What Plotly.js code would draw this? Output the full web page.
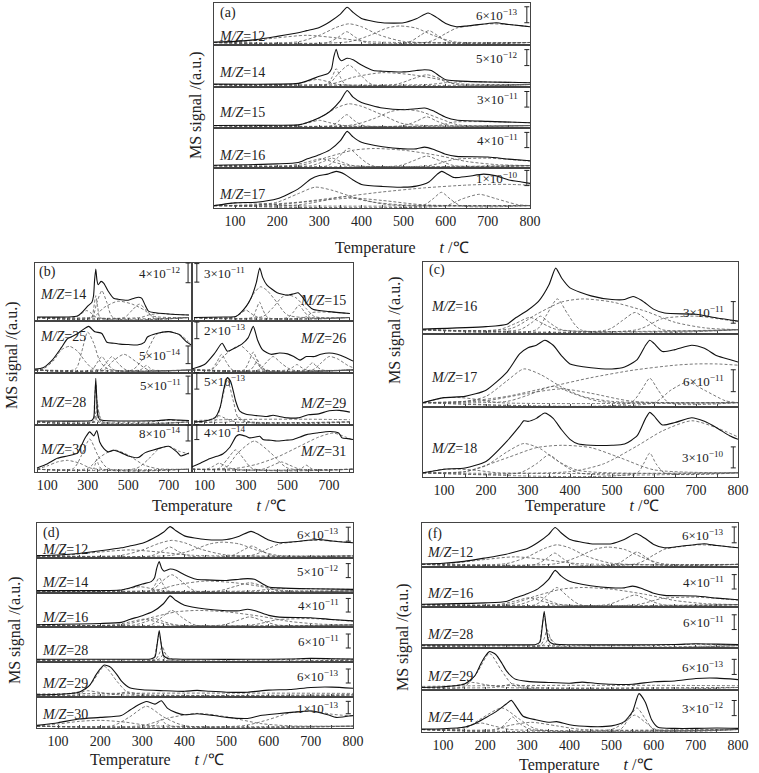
<!DOCTYPE html>
<html><head><meta charset="utf-8">
<script src="https://cdn.plot.ly/plotly-3.0.1.min.js"></script>
<style>html,body{margin:0;padding:0;background:#fff}#chart{width:759px;height:773px}</style>
</head><body><div id="chart"></div>
<script>
// ---------- DATA (relative signal, each row normalised to its own scale) ----------
const mz12_t = [50,100,150,200,250,270,300,325,350,366,380,400,450,500,530,558,578,600,625,650,700,720,750,800];
const mz12_y = [0.01,0.03,0.08,0.17,0.27,0.33,0.42,0.58,0.79,0.98,0.84,0.67,0.55,0.55,0.66,0.82,0.70,0.53,0.44,0.46,0.53,0.55,0.50,0.44];
const mz12_parts = [
  [[50,120,200,270,340,420,800],[0,0.03,0.13,0.2,0.13,0.02,0]],
  [[50,250,300,340,370,400,440,500,800],[0,0.02,0.2,0.42,0.52,0.44,0.22,0.03,0]],
  [[50,320,345,365,385,410,800],[0,0,0.15,0.3,0.15,0,0]],
  [[50,370,420,460,490,530,570,620,800],[0,0.02,0.2,0.4,0.46,0.4,0.2,0.02,0]],
  [[50,510,540,560,580,610,800],[0,0,0.2,0.33,0.2,0,0]],
  [[50,560,600,625,650,700,750,800],[0,0.02,0.25,0.40,0.45,0.52,0.5,0.44]]
];
const mz14_t = [50,200,250,278,300,321,329,334,340,346,352,366,380,400,428,450,500,530,550,566,586,600,625,700,800];
const mz14_y = [0.01,0.01,0.03,0.13,0.23,0.31,0.44,0.75,0.98,0.75,0.66,0.73,0.69,0.54,0.39,0.37,0.35,0.39,0.41,0.39,0.23,0.13,0.10,0.07,0.05];
const mz14_parts = [
  [[50,318,330,340,350,362,800],[0,0,0.2,0.44,0.2,0,0]],
  [[50,320,345,370,395,425,800],[0,0,0.3,0.54,0.3,0,0]],
  [[50,330,380,450,520,580,620,800],[0,0.02,0.2,0.33,0.27,0.15,0.03,0]],
  [[50,480,520,555,590,625,800],[0,0,0.15,0.27,0.15,0,0]],
  [[50,230,265,295,320,345,800],[0,0,0.07,0.14,0.08,0,0]],
  [[50,560,600,650,700,800],[0,0,0.05,0.08,0.07,0.05]]
];
const mz15_t = [50,200,250,270,300,325,350,366,380,400,450,500,530,550,570,600,625,700,800];
const mz15_y = [0.0,0.01,0.02,0.08,0.22,0.40,0.71,1.0,0.81,0.66,0.5,0.45,0.48,0.5,0.42,0.24,0.16,0.12,0.08];
const mz15_parts = [
  [[50,250,300,340,370,400,450,500,800],[0,0.02,0.22,0.5,0.62,0.55,0.3,0.05,0]],
  [[50,330,348,365,382,405,800],[0,0,0.15,0.31,0.15,0,0]],
  [[50,380,430,470,500,540,590,630,800],[0,0.02,0.2,0.4,0.46,0.4,0.18,0.02,0]],
  [[50,500,530,555,580,610,800],[0,0,0.12,0.25,0.12,0,0]],
  [[50,240,275,300,325,360,800],[0,0,0.08,0.15,0.08,0,0]],
  [[50,580,620,700,800],[0,0,0.1,0.11,0.08]]
];
const mz16_t = [50,200,250,270,300,325,350,366,380,400,450,500,530,550,570,600,625,700,750,800];
const mz16_y = [0.01,0.05,0.09,0.19,0.32,0.46,0.73,1.0,0.84,0.68,0.55,0.49,0.49,0.54,0.48,0.33,0.27,0.25,0.19,0.14];
const mz16_parts = [
  [[50,320,345,370,395,425,800],[0,0,0.25,0.5,0.25,0,0]],
  [[50,260,320,380,430,500,580,650,720,800],[0,0.02,0.25,0.45,0.5,0.45,0.3,0.12,0.03,0]],
  [[50,490,525,555,585,620,800],[0,0,0.15,0.28,0.15,0,0]],
  [[50,230,270,305,335,370,800],[0,0,0.1,0.2,0.1,0,0]],
  [[50,280,310,330,350,380,800],[0,0,0.12,0.22,0.12,0,0]],
  [[50,560,620,700,750,800],[0,0,0.18,0.22,0.18,0.13]]
];
const mz17_t = [50,100,150,200,250,280,300,320,340,360,380,400,450,500,530,560,580,590,600,620,650,690,720,750,780,800];
const mz17_y = [0,0.08,0.10,0.20,0.49,0.78,0.88,0.92,1.0,0.92,0.75,0.62,0.56,0.54,0.57,0.69,0.92,1.0,0.95,0.82,0.85,0.92,0.87,0.75,0.69,0.65];
const mz17_parts = [
  [[50,150,200,250,290,330,380,430,500,800],[0,0.02,0.1,0.35,0.54,0.45,0.25,0.1,0.02,0]],
  [[50,150,250,350,450,550,650,700,750,800],[0,0.02,0.1,0.25,0.4,0.52,0.6,0.62,0.62,0.6]],
  [[50,250,300,360,410,470,800],[0,0.02,0.12,0.26,0.14,0.02,0]],
  [[50,200,300,380,450,550,800],[0,0.03,0.15,0.22,0.15,0.02,0]],
  [[50,545,570,590,610,635,800],[0,0,0.2,0.39,0.2,0,0]],
  [[50,600,640,680,720,770,800],[0,0,0.2,0.33,0.2,0.03,0]],
  [[50,80,100,140,180,230,800],[0,0.05,0.08,0.08,0.05,0,0]]
];
const mz18_t = [50,100,150,200,250,280,290,300,320,340,360,380,400,420,450,500,530,560,580,590,600,620,650,690,720,750,780,800];
const mz18_y = [0,0.06,0.08,0.19,0.53,0.78,0.87,0.86,0.91,1.0,0.91,0.72,0.56,0.48,0.46,0.46,0.48,0.62,0.91,1.01,0.95,0.80,0.84,0.92,0.86,0.75,0.62,0.56];
const mz18_parts = [
  [[50,150,200,250,290,330,370,420,800],[0,0.02,0.12,0.35,0.49,0.4,0.2,0.04,0]],
  [[50,150,250,320,380,450,520,600,800],[0,0.02,0.25,0.42,0.46,0.42,0.25,0.05,0]],
  [[50,280,320,350,380,420,800],[0,0,0.15,0.3,0.15,0,0]],
  [[50,400,480,560,620,690,750,800],[0,0.02,0.15,0.45,0.7,0.87,0.75,0.6]],
  [[50,560,575,590,605,625,800],[0,0,0.15,0.33,0.15,0,0]],
  [[50,80,100,140,180,230,800],[0,0.04,0.06,0.06,0.04,0,0]]
];
const mz25_t = [40,80,125,170,200,245,275,305,335,370,395,430,460,500,545,580,595,640,700,750,785,815];
const mz25_y = [0.02,0.05,0.22,0.5,0.7,0.8,0.9,0.98,0.86,0.82,0.62,0.6,0.58,0.57,0.56,0.62,0.74,0.82,0.86,0.8,0.64,0.55];
const mz25_parts = [
  [[40,80,130,170,210,250,290,330,815],[0,0.02,0.2,0.45,0.53,0.42,0.18,0.02,0]],
  [[40,240,270,300,330,360,400,815],[0,0.02,0.4,0.85,0.6,0.2,0.02,0]],
  [[40,320,345,370,395,430,815],[0,0,0.15,0.3,0.15,0,0]],
  [[40,360,390,420,450,490,815],[0,0,0.15,0.3,0.15,0,0]],
  [[40,380,420,480,540,600,815],[0,0,0.18,0.35,0.18,0,0]],
  [[40,560,575,590,605,620,815],[0,0,0.05,0.1,0.05,0,0]],
  [[40,520,580,640,700,760,815],[0,0,0.3,0.8,0.86,0.78,0.55]]
];
const mz26_t = [40,100,150,185,210,250,280,310,335,355,380,420,460,500,530,560,590,630,660,700,740,780,815];
const mz26_y = [0.02,0.12,0.38,0.6,0.42,0.5,0.58,0.72,0.98,0.68,0.45,0.35,0.38,0.36,0.3,0.22,0.3,0.3,0.35,0.38,0.35,0.28,0.2];
const mz26_parts = [
  [[40,130,160,182,205,235,815],[0,0,0.18,0.35,0.18,0,0]],
  [[40,140,190,270,330,380,815],[0,0.02,0.3,0.55,0.3,0.02,0]],
  [[40,290,315,335,355,380,815],[0,0,0.2,0.4,0.2,0,0]],
  [[40,320,340,355,370,395,815],[0,0,0.1,0.22,0.1,0,0]],
  [[40,360,400,430,470,520,815],[0,0,0.18,0.3,0.15,0,0]],
  [[40,500,525,545,565,590,815],[0,0,0.06,0.12,0.06,0,0]],
  [[40,580,600,620,640,665,815],[0,0,0.08,0.16,0.08,0,0]],
  [[40,620,660,700,740,790,815],[0,0,0.15,0.3,0.25,0.1,0.05]]
];
const mz28_t = [50,300,320,330,335,340,345,350,360,380,450,550,650,700,750,800];
const mz28_y = [0.02,0.02,0.03,0.1,0.5,0.98,0.5,0.15,0.05,0.03,0.02,0.02,0.03,0.05,0.04,0.03];
const mz28_parts = [
  [[50,325,333,340,347,355,800],[0,0,0.4,0.85,0.4,0,0]],
  [[50,330,340,347,355,365,800],[0,0,0.2,0.45,0.2,0,0]],
  [[50,335,345,352,362,375,800],[0,0,0.1,0.25,0.1,0,0]],
  [[50,600,650,700,750,800],[0,0,0.02,0.04,0.03,0.02]]
];
const mz29_t = [50,100,150,175,190,200,210,225,240,250,270,300,350,400,430,460,500,550,600,650,700,750,800];
const mz29_y = [0,0.02,0.09,0.32,0.67,0.87,1.0,0.92,0.67,0.47,0.24,0.17,0.14,0.12,0.15,0.12,0.09,0.09,0.16,0.18,0.25,0.26,0.22];
const mz29_parts = [
  [[50,150,180,210,240,270,800],[0,0.02,0.4,0.95,0.45,0.05,0]],
  [[50,100,140,170,200,250,800],[0,0,0.08,0.14,0.08,0,0]],
  [[50,220,245,265,285,320,800],[0,0,0.05,0.1,0.05,0,0]],
  [[50,200,400,600,800],[0.03,0.05,0.06,0.06,0.05]]
];
const mz30_t = [50,100,150,200,250,270,290,310,330,345,360,380,400,430,470,500,550,580,620,660,700,740,760,800];
const mz30_y = [0.03,0.13,0.27,0.33,0.4,0.6,0.8,0.93,0.83,0.96,0.67,0.51,0.43,0.47,0.4,0.33,0.29,0.4,0.47,0.53,0.57,0.43,0.33,0.4];
const mz30_parts = [
  [[50,230,270,310,350,400,800],[0,0.02,0.35,0.75,0.35,0.02,0]],
  [[50,300,360,430,500,580,650,800],[0,0.02,0.3,0.48,0.35,0.1,0.01,0]],
  [[50,540,600,650,700,750,800],[0,0.02,0.25,0.5,0.57,0.45,0.38]],
  [[50,100,150,200,260,320,800],[0,0.08,0.18,0.22,0.15,0.02,0]],
  [[50,325,337,345,353,370,800],[0,0,0.12,0.25,0.12,0,0]]
];
const mz31_t = [40,80,124,160,188,221,253,269,300,318,345,366,382,420,447,490,527,560,592,640,705,746,762,790,815];
const mz31_y = [0.06,0.15,0.26,0.32,0.38,0.54,0.82,0.86,0.82,0.78,0.8,0.82,0.74,0.72,0.7,0.72,0.74,0.8,0.86,0.9,0.94,0.9,0.78,0.76,0.74];
const mz31_parts = [
  [[40,170,210,250,290,330,815],[0,0.02,0.25,0.48,0.25,0.02,0]],
  [[40,200,260,340,420,500,815],[0,0.03,0.4,0.7,0.4,0.03,0]],
  [[40,380,430,470,510,560,815],[0,0,0.1,0.18,0.1,0,0]],
  [[40,560,575,590,605,620,815],[0,0,0.05,0.1,0.05,0,0]],
  [[40,250,350,450,550,650,720,780,815],[0,0.02,0.12,0.3,0.55,0.8,0.9,0.8,0.72]],
  [[40,110,145,170,200,240,815],[0,0,0.08,0.15,0.08,0,0]]
];
const mz44_t = [50,100,150,175,200,225,250,262,275,290,320,350,370,400,450,500,530,550,565,580,595,610,650,700,750,800];
const mz44_y = [0.01,0.02,0.06,0.16,0.32,0.49,0.71,0.81,0.61,0.37,0.27,0.2,0.22,0.13,0.08,0.1,0.22,0.51,1.0,0.76,0.27,0.06,0.03,0.03,0.04,0.03];
const mz44_parts = [
  [[50,150,190,240,280,320,800],[0,0.02,0.3,0.6,0.3,0.02,0]],
  [[50,230,250,265,280,310,800],[0,0,0.18,0.35,0.18,0,0]],
  [[50,220,260,310,370,430,800],[0,0,0.12,0.2,0.1,0,0]],
  [[50,520,540,560,580,600,800],[0,0,0.3,0.6,0.3,0,0]],
  [[50,500,530,555,580,605,800],[0,0,0.2,0.4,0.2,0,0]],
  [[50,120,160,190,220,260,800],[0,0,0.1,0.18,0.1,0,0]]
];
// tick labels
const ticksFull = [100,200,300,400,500,600,700,800];
const ticksB = [100,300,500,700];
// scale-bar texts per panel: [mantissa, exponent]
const scaleA = [['6','13'],['5','12'],['3','11'],['4','11'],['1','10']];
const scaleBL = [['4','12'],['5','14'],['5','11'],['8','14']];
const scaleBR = [['3','11'],['2','13'],['5','13'],['4','14']];
const scaleC = [['3','11'],['6','11'],['3','10']];
const scaleD = [['6','13'],['5','12'],['4','11'],['6','11'],['6','13'],['1','13']];
const scaleF = [['6','13'],['4','11'],['6','11'],['6','13'],['3','12']];

// ---------- BUILD ----------
const species = {
  12:[mz12_t,mz12_y,mz12_parts],14:[mz14_t,mz14_y,mz14_parts],15:[mz15_t,mz15_y,mz15_parts],
  16:[mz16_t,mz16_y,mz16_parts],17:[mz17_t,mz17_y,mz17_parts],18:[mz18_t,mz18_y,mz18_parts],
  25:[mz25_t,mz25_y,mz25_parts],26:[mz26_t,mz26_y,mz26_parts],28:[mz28_t,mz28_y,mz28_parts],
  29:[mz29_t,mz29_y,mz29_parts],30:[mz30_t,mz30_y,mz30_parts],31:[mz31_t,mz31_y,mz31_parts],
  44:[mz44_t,mz44_y,mz44_parts]
};
const W = 759, H = 773;
const FONT = 'Liberation Serif';
const panels = [
  {x:[214,530], range:[50,800], labels:ticksFull, rows:[[3,45],[45,87],[87,128],[128,168],[168,208]],
   sp:[12,14,15,16,17], lx:0.01, la:'left', ly:[0.2,0.34,0.37,0.32,0.35],
   sc:scaleA, sx:0.968, sa:'right', sy:[0.72,0.7,0.7,0.7,0.75], bx:0.99, bh:0.19, tag:'(a)', tagy:0.76},
  {x:[35,192], range:[40,815], labels:ticksB, rows:[[263,321],[321,373],[373,425],[425,472]],
   sp:[14,25,28,30], lx:0.02, la:'left', ly:[0.45,0.71,0.44,0.47],
   sc:scaleBL, sx:0.94, sa:'right', sy:[0.83,0.35,0.77,0.83], bx:0.975, bh:0.17, tag:'(b)', tagy:0.85},
  {x:[192,353], range:[40,815], labels:ticksB, rows:[[263,321],[321,373],[373,425],[425,472]],
   sp:[15,26,29,31], lx:0.97, la:'right', ly:[0.36,0.67,0.42,0.43],
   sc:scaleBR, sx:0.065, sa:'left', sy:[0.83,0.82,0.85,0.85], bx:0.03, bh:0.16},
  {x:[423,738], range:[50,800], labels:ticksFull, rows:[[262,334],[334,407],[407,477]],
   sp:[16,17,18], lx:0.02, la:'left', ly:[0.38,0.41,0.41],
   sc:scaleC, sx:0.962, sa:'right', sy:[0.3,0.36,0.28], bx:0.985, bh:0.15, tag:'(c)', tagy:0.89},
  {x:[37,353], range:[50,800], labels:ticksFull, rows:[[523,558],[558,593],[593,627],[627,662],[662,697],[697,728]],
   sp:[12,14,16,28,29,30], lx:0.01, la:'left', ly:[0.23,0.29,0.29,0.34,0.4,0.42],
   sc:scaleD, sx:0.962, sa:'right', sy:[0.68,0.64,0.64,0.6,0.6,0.66], bx:0.985, bh:0.2, tag:'(d)', tagy:0.72},
  {x:[422,738], range:[50,800], labels:ticksFull, rows:[[523,567],[567,607],[607,648],[648,690],[690,732]],
   sp:[12,16,28,29,44], lx:0.01, la:'left', ly:[0.32,0.35,0.32,0.31,0.35],
   sc:scaleF, sx:0.962, sa:'right', sy:[0.73,0.63,0.63,0.55,0.57], bx:0.988, bh:0.18, tag:'(f)', tagy:0.74}
];
const traces = [], shapes = [], annotations = [];
const layout = {width:W, height:H, margin:{l:0,r:0,t:0,b:0}, showlegend:false,
  paper_bgcolor:'#fff', plot_bgcolor:'rgba(0,0,0,0)', font:{family:FONT, color:'#222', size:13}};
let n = 0;
panels.forEach(p => {
  const tv = []; for (let v = 50; v <= 800; v += 50) tv.push(v);
  const tt = tv.map(v => p.labels.includes(v) ? String(v) : '');
  const pw = p.x[1] - p.x[0];
  p.rows.forEach((r, k) => {
    n++;
    const xs = n === 1 ? 'x' : 'x' + n, ys = n === 1 ? 'y' : 'y' + n;
    const last = k === p.rows.length - 1;
    layout[n === 1 ? 'xaxis' : 'xaxis' + n] = {domain:[p.x[0]/W, p.x[1]/W], anchor:ys, range:p.range,
      tickmode:'array', tickvals:tv, ticktext:tt, showticklabels:last, ticks:'inside', ticklen:3,
      tickcolor:'#444', tickwidth:1, showline:true, mirror:true, linecolor:'#444', linewidth:1,
      showgrid:false, zeroline:false, tickfont:{family:FONT, size:14, color:'#222'}, fixedrange:true};
    layout[n === 1 ? 'yaxis' : 'yaxis' + n] = {domain:[1 - r[1]/H, 1 - r[0]/H], anchor:xs, range:[-0.07,1.1],
      showticklabels:false, ticks:'', showline:true, mirror:true, linecolor:'#444', linewidth:1,
      showgrid:false, zeroline:false, fixedrange:true};
    const s = species[p.sp[k]];
    s[2].forEach(pt => traces.push({x:pt[0], y:pt[1], xaxis:xs, yaxis:ys, mode:'lines', hoverinfo:'skip',
      line:{color:'#555', width:0.8, dash:'3px,2px', shape:'spline', smoothing:0.7}}));
    traces.push({x:s[0], y:s[1], xaxis:xs, yaxis:ys, mode:'lines', hoverinfo:'skip',
      line:{color:'#111', width:1.1, shape:'spline', smoothing:0.6}});
    annotations.push({xref:xs+' domain', yref:ys+' domain', x:p.lx, y:p.ly[k], xanchor:p.la, yanchor:'middle',
      text:'<i>M/Z</i>=' + p.sp[k], showarrow:false, font:{family:FONT, size:14, color:'#222'}});
    const sc = p.sc[k];
    annotations.push({xref:xs+' domain', yref:ys+' domain', x:p.sx, y:p.sy[k], xanchor:p.sa, yanchor:'middle',
      text:sc[0] + '×10<sup>−' + sc[1] + '</sup>', showarrow:false, font:{family:FONT, size:13, color:'#222'}});
    const y0 = p.sy[k] - p.bh, y1 = p.sy[k] + p.bh, cw = 2.5 / pw;
    const ln = {color:'#222', width:1};
    shapes.push({type:'line', xref:xs+' domain', yref:ys+' domain', x0:p.bx, x1:p.bx, y0:y0, y1:y1, line:ln});
    shapes.push({type:'line', xref:xs+' domain', yref:ys+' domain', x0:p.bx-cw, x1:p.bx+cw, y0:y0, y1:y0, line:ln});
    shapes.push({type:'line', xref:xs+' domain', yref:ys+' domain', x0:p.bx-cw, x1:p.bx+cw, y0:y1, y1:y1, line:ln});
    if (k === 0 && p.tag) annotations.push({xref:xs+' domain', yref:ys+' domain', x:0.012, y:p.tagy,
      xanchor:'left', yanchor:'middle', text:p.tag, showarrow:false, font:{family:FONT, size:14, color:'#222'}});
  });
});
// axis titles
const xt = [[333,248],[150,506],[523,506],[88,760],[517,765]];
xt.forEach(a => annotations.push({xref:'paper', yref:'paper', x:a[0]/W, y:1 - a[1]/H, xanchor:'left', yanchor:'middle',
  text:'Temperature\u00a0\u00a0\u00a0\u00a0\u00a0\u00a0<i>t</i> /℃', showarrow:false, font:{family:FONT, size:16, color:'#222'}}));
const yt = [[196,105],[12,355],[395,330],[15,630],[403,637]];
yt.forEach(a => annotations.push({xref:'paper', yref:'paper', x:a[0]/W, y:1 - a[1]/H, xanchor:'center', yanchor:'middle',
  textangle:-90, text:'MS signal /(a.u.)', showarrow:false, font:{family:FONT, size:16, color:'#222'}}));
layout.shapes = shapes; layout.annotations = annotations;
Plotly.newPlot('chart', traces, layout, {staticPlot:true, displayModeBar:false});
</script></body></html>
